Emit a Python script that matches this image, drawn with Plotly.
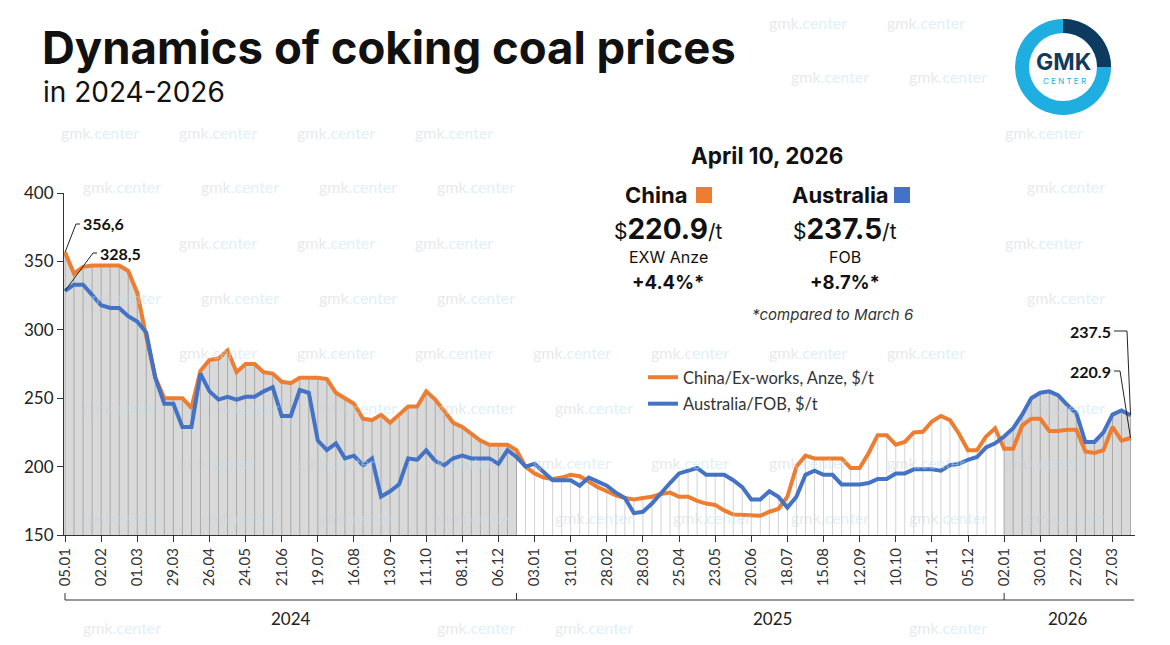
import math
import plotly.graph_objects as go

# ---------------- data ----------------
tick_labels = ["05.01", "02.02", "01.03", "29.03", "26.04", "24.05", "21.06", "19.07",
               "16.08", "13.09", "11.10", "08.11", "06.12", "03.01", "31.01", "28.02",
               "28.03", "25.04", "23.05", "20.06", "18.07", "15.08", "12.09", "10.10",
               "07.11", "05.12", "02.01", "30.01", "27.02", "27.03"]
years = ["2024", "2025", "2026"]

china = [356.6, 341, 346, 347, 347, 347, 347, 343, 327, 295,
         265, 250, 250, 250, 243, 270, 278, 279, 285, 269,
         275, 275, 269, 268, 262, 261, 265, 265, 265, 264,
         254, 250, 246, 235, 234, 238, 232, 238, 244, 244,
         255, 249, 240, 232, 229, 224, 219, 216, 216, 216,
         212, 200, 195, 192, 191, 192, 194, 193, 189, 185,
         182, 179, 177, 176, 177, 178, 180, 181, 178, 178,
         175, 173, 172, 168, 165, 164.5, 164, 164, 167, 169,
         178, 200, 208, 206, 206, 206, 206, 199, 199, 210,
         223, 223, 216, 218, 225, 225.5, 233, 237, 234, 224,
         212, 212, 222, 228, 213, 213, 230, 235, 235, 226,
         226, 227, 227, 211, 210, 212, 229, 219, 220.9]

australia = [328.5, 333, 333, 325, 318, 316, 316, 310, 306, 298,
             265, 246, 246, 229, 229, 268, 255, 249, 251, 249,
             251, 251, 255, 258, 237, 237, 256, 254, 219, 212,
             217, 206, 208, 201, 206, 178, 182, 187, 206, 205,
             212, 204, 201, 206, 208, 206, 206, 206, 202, 212,
             207, 200, 202, 196, 190, 190, 190, 186, 192, 189,
             186, 181, 177, 166, 167, 173, 181, 188, 195, 197,
             199, 194, 194, 194, 190, 185, 176, 176, 182, 178,
             170, 178, 194, 197, 194, 194, 187, 187, 187, 188,
             191, 191, 195, 195, 198, 198, 198, 197, 201, 202,
             205, 207, 214, 217, 222, 228, 238, 250, 254, 255,
             252, 245, 239, 218, 218, 225, 238, 241, 237.5]

# ---------------- geometry ----------------
W, H = 1170, 645
L, R, T, B = 64, 35, 193, 110
PW, PH = W - L - R, H - T - B
X0_PX, STEP_PX = 65.0, 9.03
YMIN, YMAX = 150, 400
END_2024, START_2026 = 50, 104

FONT = "Lato"
HFONT = "Inter"
ORANGE, BLUE = "#ED7D31", "#4472C4"


def px(x):
    return (x - L) / PW


def py(y):
    return (H - B - y) / PH


def dx(p):
    return (p - X0_PX) / STEP_PX


def dy(p):
    return YMIN + (H - B - p) * (YMAX - YMIN) / PH


n = len(china)
idx = list(range(n))
top = [max(a, b) for a, b in zip(china, australia)]

fig = go.Figure()

# grey filled areas (2024 and 2026)
for a, b in [(0, END_2024 + 1), (START_2026, n)]:
    fig.add_trace(go.Scatter(x=idx[a:b], y=top[a:b], mode="lines", line=dict(width=0),
                             fill="tozeroy", fillcolor="#d9d9d9", hoverinfo="skip",
                             showlegend=False))


def verticals(indices):
    xs, ys = [], []
    for i in indices:
        xs += [i, i, None]
        ys += [YMIN, top[i], None]
    return xs, ys


dark_idx = [i for i in idx if i <= END_2024 or i >= START_2026]
light_idx = [i for i in idx if END_2024 < i < START_2026]
for ids, col in [(dark_idx, "#a9a9a9"), (light_idx, "#d3d3d3")]:
    xs, ys = verticals(ids)
    fig.add_trace(go.Scatter(x=xs, y=ys, mode="lines", line=dict(color=col, width=1),
                             hoverinfo="skip", showlegend=False))

fig.add_trace(go.Scatter(x=idx, y=china, mode="lines", name="China/Ex-works, Anze, $/t",
                         line=dict(color=ORANGE, width=4), legendgroup="a"))
fig.add_trace(go.Scatter(x=idx, y=australia, mode="lines", name="Australia/FOB, $/t",
                         line=dict(color=BLUE, width=4), legendgroup="b"))

shapes = []
ann = []

# watermark (skip copies that would collide with real texts or be cut by the edges)
busy = [(35, 20, 745, 72), (35, 78, 235, 106), (1005, 12, 1120, 122),
        (600, 140, 930, 325), (640, 362, 905, 415), (72, 208, 145, 266),
        (1065, 318, 1140, 382), (0, 178, 62, 548), (50, 538, 1140, 592),
        (255, 606, 325, 632), (735, 606, 810, 632), (1030, 606, 1105, 632)]
WM_HW, WM_HH = 45, 9
for k in range(-3, 9):
    yy = 187 + 55 * k
    off = 4 if k % 2 == 0 else 100
    for c in range(-1, 11):
        xx = off + 118 * c
        x0, x1, y0, y1 = xx - WM_HW, xx + WM_HW, yy - WM_HH, yy + WM_HH
        if x0 < 0 or x1 > W or y0 < 0 or y1 > H:
            continue
        if any(x0 < bx1 and x1 > bx0 and y0 < by1 and y1 > by0 for bx0, by0, bx1, by1 in busy):
            continue
        ann.append(dict(x=px(xx), y=py(yy), xref="paper", yref="paper", showarrow=False,
                        text="<span style='color:rgba(205,212,220,0.5)'>gmk</span>"
                             "<span style='color:rgba(190,225,242,0.5)'>.center</span>",
                        font=dict(family=FONT, size=16), xanchor="center", yanchor="middle"))


def txt(x, y, t, size, bold=False, italic=False, color="#111111", xanchor="center",
        family=HFONT):
    if bold:
        t = f"<b>{t}</b>"
    if italic:
        t = f"<i>{t}</i>"
    ann.append(dict(x=px(x), y=py(y), xref="paper", yref="paper", showarrow=False, text=t,
                    xanchor=xanchor, yanchor="middle",
                    font=dict(family=family, size=size, color=color)))


# title
txt(40, 47, "Dynamics of coking coal prices", 45.5, bold=True, xanchor="left")
txt(41, 92, "in 2024-2026", 28, xanchor="left")

# logo
cx, cy, ro, ri = 1063, 67, 48, 34
shapes.append(dict(type="circle", xref="paper", yref="paper", x0=px(cx - ro), x1=px(cx + ro),
                   y0=py(cy + ro), y1=py(cy - ro), fillcolor="#1eaee0", line=dict(width=0)))
pts = []
for j in range(31):
    a = math.pi / 2 - j * (math.pi / 2) / 30
    pts.append((cx + ro * math.cos(a), cy - ro * math.sin(a)))
for j in range(31):
    a = j * (math.pi / 2) / 30
    pts.append((cx + ri * math.cos(a), cy - ri * math.sin(a)))
path = "M " + " L ".join(f"{px(x):.5f},{py(y):.5f}" for x, y in pts) + " Z"
shapes.append(dict(type="path", xref="paper", yref="paper", path=path,
                   fillcolor="#0e3a5f", line=dict(width=0)))
shapes.append(dict(type="circle", xref="paper", yref="paper", x0=px(cx - ri), x1=px(cx + ri),
                   y0=py(cy + ri), y1=py(cy - ri), fillcolor="white", line=dict(width=0)))
txt(cx, 62, "GMK", 23, bold=True, color="#123b5e")
txt(cx + 1, 81, "C E N T E R", 8, color="#1eaee0")

# info block
txt(767, 155, "April 10, 2026", 22.5, bold=True)
txt(656, 195, "China", 22, bold=True)
txt(840, 195, "Australia", 22, bold=True)
shapes.append(dict(type="rect", xref="paper", yref="paper", x0=px(696), x1=px(712),
                   y0=py(203), y1=py(187), fillcolor=ORANGE, line=dict(width=0)))
shapes.append(dict(type="rect", xref="paper", yref="paper", x0=px(894), x1=px(910),
                   y0=py(203), y1=py(187), fillcolor=BLUE, line=dict(width=0)))
big = "<span style=\"font-size:28px\"><b>{}</b></span>"
txt(668, 229, "$" + big.format(china[-1]) + "/t", 21)
txt(845, 229, "$" + big.format(australia[-1]) + "/t", 21)
txt(668, 257, "EXW Anze", 16)
txt(845, 257, "FOB", 16)
txt(668, 282, "+4.4%*", 18.5, bold=True)
txt(845, 282, "+8.7%*", 18.5, bold=True)
txt(832, 314, "*compared to March 6", 15, italic=True, color="#333333")

# value labels with leader lines
def leader(points_px, data_pt):
    xs = [dx(p[0]) for p in points_px] + [data_pt[0]]
    ys = [dy(p[1]) for p in points_px] + [data_pt[1]]
    p = "M " + " L ".join(f"{a:.4f},{b:.4f}" for a, b in zip(xs, ys))
    shapes.append(dict(type="path", xref="x", yref="y", path=p,
                       line=dict(color="#222222", width=1)))


leader([(80, 224), (76, 224)], (0, china[0]))
leader([(97, 253), (93, 253)], (0, australia[0]))
leader([(1114, 331), (1127, 331)], (n - 1, australia[-1]))
leader([(1114, 371), (1120, 371)], (n - 1, china[-1]))
txt(81, 223, f"{china[0]}".replace(".", ","), 16, bold=True, xanchor="left", family=FONT)
txt(98, 253, f"{australia[0]}".replace(".", ","), 16, bold=True, xanchor="left", family=FONT)
txt(1113, 331, f"{australia[-1]}", 16, bold=True, xanchor="right", family=FONT)
txt(1113, 371, f"{china[-1]}", 16, bold=True, xanchor="right", family=FONT)

# year bracket axis
BR_Y = 600
shapes.append(dict(type="line", xref="paper", yref="paper", x0=px(65), x1=px(1134),
                   y0=py(BR_Y), y1=py(BR_Y), line=dict(color="#333333", width=1)))
for xb in [X0_PX, X0_PX + STEP_PX * END_2024, X0_PX + STEP_PX * START_2026]:
    shapes.append(dict(type="line", xref="paper", yref="paper", x0=px(xb), x1=px(xb),
                       y0=py(BR_Y), y1=py(BR_Y - 7), line=dict(color="#333333", width=1)))
for yr, xc in zip(years, [291, 772, 1068]):
    txt(xc, 618, yr, 17, color="#222222", family=FONT)

fig.update_layout(
    width=W, height=H, margin=dict(l=L, r=R, t=T, b=B),
    paper_bgcolor="white", plot_bgcolor="rgba(0,0,0,0)",
    font=dict(family=FONT, color="#222222"),
    showlegend=True,
    legend=dict(x=px(643), y=py(360), xanchor="left", yanchor="top",
                font=dict(family=FONT, size=16.5, color="#333333"), bgcolor="rgba(0,0,0,0)",
                tracegroupgap=2, itemwidth=30),
    xaxis=dict(range=[dx(L), dx(W - R)], tickmode="array",
               tickvals=list(range(0, n, 4))[:len(tick_labels)], ticktext=tick_labels,
               tickangle=-90, tickfont=dict(size=15, color="#333333"), showgrid=False,
               zeroline=False, showline=True, linecolor="#333333", ticks="outside",
               ticklen=6, tickcolor="#333333"),
    yaxis=dict(range=[YMIN, YMAX], tickvals=[150, 200, 250, 300, 350, 400],
               tickfont=dict(size=17, color="#222222"), showgrid=False, zeroline=False,
               showline=True, linecolor="#333333", ticks="outside", ticklen=6,
               tickcolor="#333333"),
    shapes=shapes, annotations=ann,
)

fig.write_html("out.html")
